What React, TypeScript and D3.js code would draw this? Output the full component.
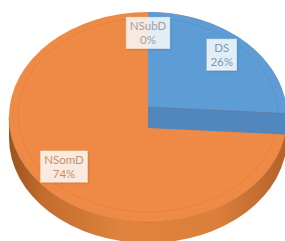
import React from "react";
import * as d3 from "d3";

const categories = ["DS", "NSomD", "NSubD"];
const values = [26, 74, 0];
const percentLabels = ["26%", "74%", "0%"];
const colors = ["#5E9CD6", "#EE8A45", "#A5A5A5"];

const W = 285;
const H = 241;
const cx = 148;
const cy = 117;
const rx = 139;
const ry = 105;
const apexY = 107;
const depth = 21;
const labelFrac = 0.78;
const fontSize = 11.5;
const fontFamily = "Lato, 'Open Sans', sans-serif";

function rimT(theta: number) {
  const u = Math.sin(theta);
  const v = -Math.cos(theta);
  const w = (apexY - cy) / ry;
  return -v * w + Math.sqrt(v * v * w * w - w * w + 1);
}
function pointAt(theta: number, frac: number): [number, number] {
  const t = rimT(theta) * frac;
  return [cx + t * rx * Math.sin(theta), apexY - t * ry * Math.cos(theta)];
}

function measure(text: string) {
  const c = document.createElement("canvas").getContext("2d");
  if (!c) return text.length * 6;
  c.font = `${fontSize}px Lato`;
  return c.measureText(text).width;
}

export default function App() {
  const arcs = d3.pie<number>().sort(null).value((d) => d)(values);

  const slicePath = (a0: number, a1: number) => {
    const n = Math.max(2, Math.ceil(((a1 - a0) * 180) / Math.PI));
    const pts: [number, number][] = [[cx, apexY]];
    for (let i = 0; i <= n; i++) pts.push(pointAt(a0 + ((a1 - a0) * i) / n, 1));
    return d3.line()(pts) + "Z";
  };

  const sidePath =
    `M${cx - rx},${cy} A${rx},${ry} 0 0 0 ${cx + rx},${cy} ` +
    `L${cx + rx},${cy + depth} A${rx},${ry} 0 0 1 ${cx - rx},${cy + depth} Z`;

  return (
    <svg width={W} height={H} style={{ position: "absolute", left: 0, top: 0, background: "#fff" }}>
      <defs>
        <linearGradient id="side" x1="0" x2="1" y1="0" y2="0">
          <stop offset="0" stopColor="#9A521F" />
          <stop offset="0.12" stopColor="#C26C2D" />
          <stop offset="0.4" stopColor="#DF833F" />
          <stop offset="0.75" stopColor="#DB7F3B" />
          <stop offset="1" stopColor="#B3612A" />
        </linearGradient>
        <filter id="shadow" x="-20%" y="-20%" width="140%" height="140%">
          <feDropShadow dx="0.8" dy="0.8" stdDeviation="0.8" floodColor="#000" floodOpacity="0.18" />
        </filter>
      </defs>
      <path d={sidePath} fill="url(#side)" />
      <ellipse cx={cx} cy={cy} rx={rx} ry={ry} fill={colors[1]} />
      <path
        d={`M${cx - rx},${cy} A${rx},${ry} 0 0 0 ${cx + rx},${cy}`}
        fill="none"
        stroke="#C96F2E"
        strokeOpacity={0.6}
        strokeWidth={1}
      />
      {arcs.map((a, i) =>
        a.endAngle - a.startAngle > 0 && i !== 1 ? (
          <path key={"s" + i} d={slicePath(a.startAngle, a.endAngle)} fill={colors[i]} />
        ) : null
      )}
      <ellipse cx={cx} cy={cy - 2} rx={rx - 9} ry={ry - 8} fill="none" stroke="#000" strokeOpacity={0.05} />
      {arcs.map((a, i) => {
        if (i !== 0) return null;
        const p0: [number, number] = [cx, apexY];
        const p1 = pointAt(a.endAngle, 1);
        const pts: [number, number][] = [p0, p1, [p1[0], p1[1] + depth], [p0[0], p0[1] + depth]];
        return (
          <g key={"f" + i}>
            <path d={d3.line()(pts) + "Z"} fill="#5287BE" />
            <path d={d3.line()([p0, p1])} stroke="#4676A8" strokeWidth={0.8} strokeOpacity={0.6} />
          </g>
        );
      })}
      {arcs.map((a, i) => {
        const mid = (a.startAngle + a.endAngle) / 2;
        const [lx, ly] = pointAt(mid, labelFrac);
        const w = Math.max(measure(categories[i]), measure(percentLabels[i])) + 7;
        const h = 31;
        const tc = d3.interpolateRgb(colors[i], "#9a9a9a")(0.45);
        return (
          <g key={"l" + i}>
            <rect
              x={lx - w / 2}
              y={ly - h / 2}
              width={w}
              height={h}
              fill="#fff"
              fillOpacity={0.82}
              stroke="#fff"
              strokeOpacity={0.5}
              filter="url(#shadow)"
            />
            <text
              x={lx}
              y={ly - 7}
              textAnchor="middle"
              dominantBaseline="central"
              fontFamily={fontFamily}
              fontSize={fontSize}
              fill={tc}
            >
              {categories[i]}
            </text>
            <text
              x={lx}
              y={ly + 7}
              textAnchor="middle"
              dominantBaseline="central"
              fontFamily={fontFamily}
              fontSize={fontSize}
              fill={tc}
            >
              {percentLabels[i]}
            </text>
          </g>
        );
      })}
    </svg>
  );
}
